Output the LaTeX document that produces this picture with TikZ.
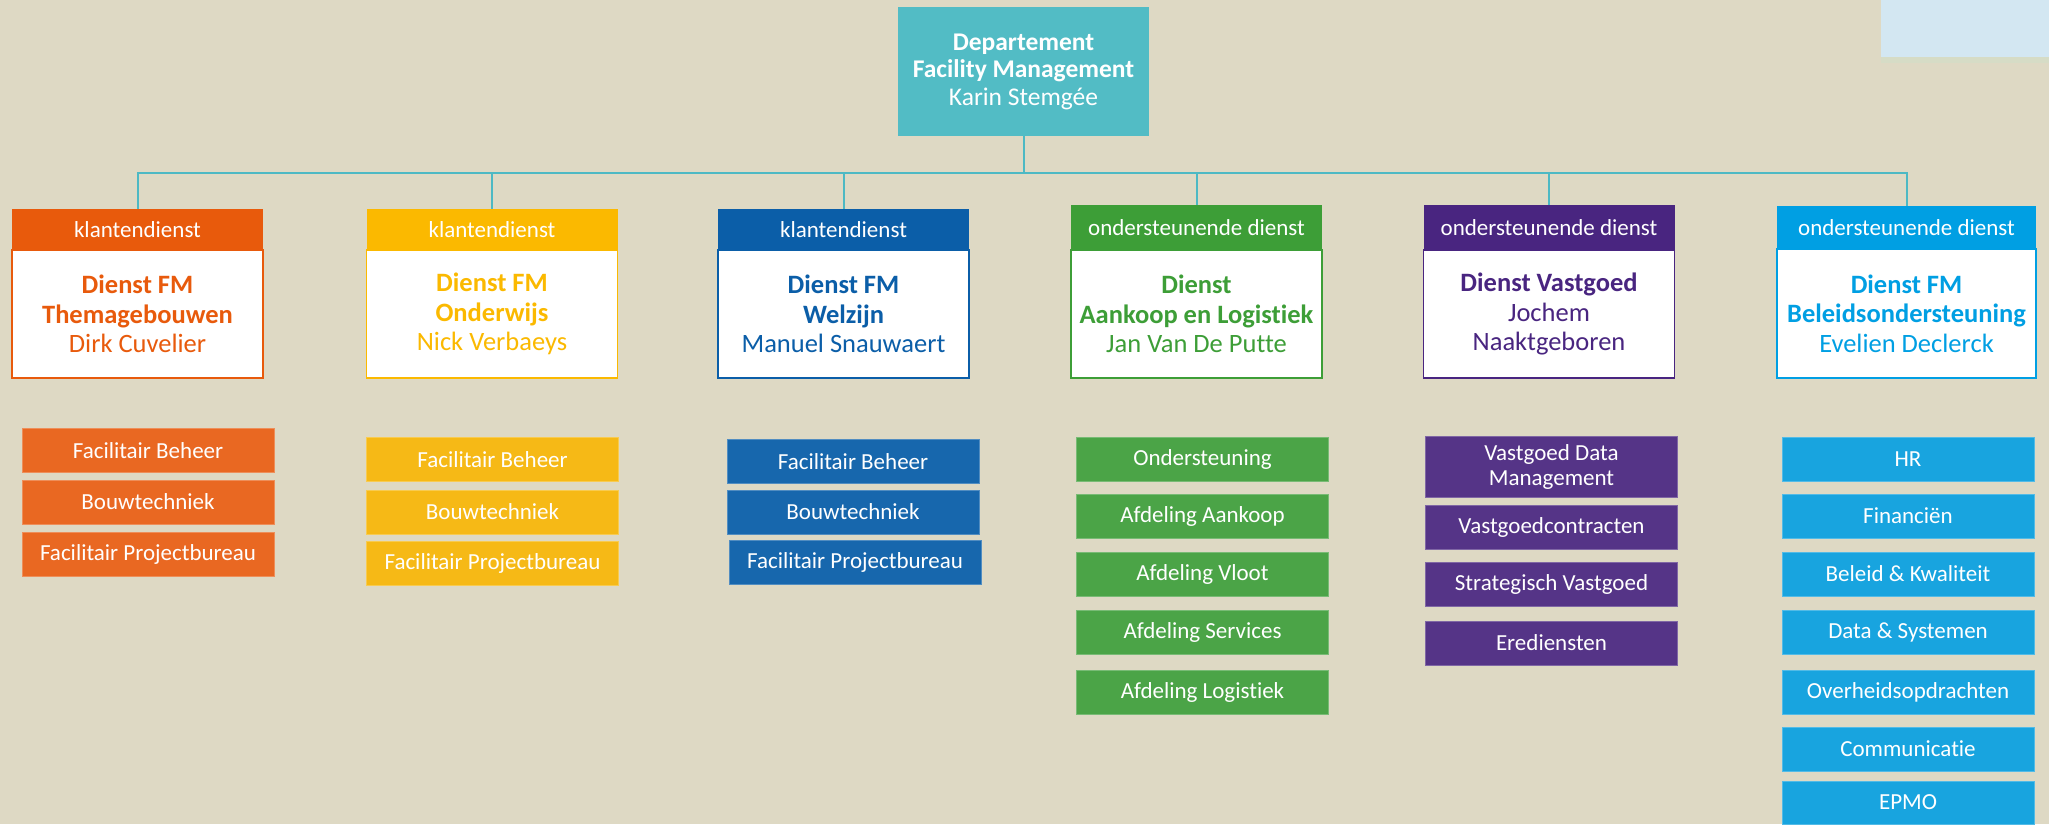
\documentclass[tikz,border=0pt]{standalone}
\usepackage{fontspec}
\setmainfont{Carlito}[Ligatures=NoCommon]
\definecolor{bg}{HTML}{DED9C4}
\definecolor{topc}{HTML}{52BCC5}
\definecolor{linec}{HTML}{4DB9C4}
\definecolor{orH}{HTML}{E85A0C}
\definecolor{orS}{HTML}{E96822}
\definecolor{yeH}{HTML}{FBB900}
\definecolor{yeS}{HTML}{F6B916}
\definecolor{blH}{HTML}{0B5EA8}
\definecolor{blS}{HTML}{1767AD}
\definecolor{grH}{HTML}{3D9E37}
\definecolor{grS}{HTML}{4BA447}
\definecolor{puH}{HTML}{492580}
\definecolor{puS}{HTML}{553487}
\definecolor{lbH}{HTML}{009FE3}
\definecolor{lbS}{HTML}{18A4DF}
\definecolor{imgc}{HTML}{D3E7F2}
\definecolor{imgb}{HTML}{D6DCC6}
\begin{document}
\begin{tikzpicture}[x=0.5pt,y=-0.5pt,
  box/.style={rectangle, inner sep=0pt, outer sep=0pt, align=center},
  hdr/.style={box, fill=#1, minimum width=125.5pt, minimum height=20.5pt, text=white,
    font=\fontsize{11.5}{13}\selectfont},
  body/.style={box, fill=white, draw=#1, line width=0.6pt, minimum width=125.5pt,
    minimum height=64pt, text=#1, font=\fontsize{13.25}{14.75}\selectfont},
  sub/.style={box, fill=#1, draw=#1!75!white, line width=0.4pt, minimum width=126pt,
    minimum height=22pt, text=white, font=\fontsize{11.5}{12.5}\selectfont},
  conn/.style={draw=linec, line width=1pt}]
\useasboundingbox (0,0) rectangle (2049,824);
\fill[bg] (0,0) rectangle (2049,824);
% image fragment top right
\fill[imgc] (1881,0) rectangle (2049,63);
\fill[imgb] (1881,57) rectangle (2049,63);

% top node
\node[box, fill=topc, minimum width=125.5pt, minimum height=64.5pt, text=white,
  font=\fontsize{12.75}{13.75}\selectfont] (top) at (1023.5,71.5)
  {\textbf{Departement}\\\textbf{Facility Management}\\Karin Stemgée};
\coordinate (bus) at (1023.5,172.5);

% column 1
\node[hdr=orH] (h1) at (137.5,229.5) {klantendienst};
\node[body=orH] (b1) at (137.5,314) {\textbf{Dienst FM}\\\textbf{Themagebouwen}\\Dirk Cuvelier};
\node[sub=orS] (s11) at (148,450.5) {Facilitair Beheer};
\node[sub=orS] (s12) at (148,502) {Bouwtechniek};
\node[sub=orS] (s13) at (148,554) {Facilitair Projectbureau};

% column 2
\node[hdr=yeH] (h2) at (492,229.5) {klantendienst};
\node[body=yeH] (b2) at (492,314) {\textbf{Dienst FM}\\\textbf{Onderwijs}\\Nick Verbaeys};
\node[sub=yeS] (s21) at (492.5,459.5) {Facilitair Beheer};
\node[sub=yeS] (s22) at (492.5,512) {Bouwtechniek};
\node[sub=yeS] (s23) at (492.5,563.5) {Facilitair Projectbureau};

% column 3
\node[hdr=blH] (h3) at (843.5,229.5) {klantendienst};
\node[body=blH] (b3) at (843.5,314) {\textbf{Dienst FM}\\\textbf{Welzijn}\\Manuel Snauwaert};
\node[sub=blS] (s31) at (853,461.5) {Facilitair Beheer};
\node[sub=blS] (s32) at (853,512) {Bouwtechniek};
\node[sub=blS] (s33) at (855,562.5) {Facilitair Projectbureau};

% column 4
\node[hdr=grH, minimum height=22.5pt] (h4) at (1196.5,227.5) {ondersteunende dienst};
\node[body=grH] (b4) at (1196.5,314) {\textbf{Dienst}\\\textbf{Aankoop en Logistiek}\\Jan Van De Putte};
\node[sub=grS] (s41) at (1202.5,459) {Ondersteuning};
\node[sub=grS] (s42) at (1202.5,516) {Afdeling Aankoop};
\node[sub=grS] (s43) at (1202.5,574) {Afdeling Vloot};
\node[sub=grS] (s44) at (1202.5,632) {Afdeling Services};
\node[sub=grS] (s45) at (1202.5,692) {Afdeling Logistiek};

% column 5
\node[hdr=puH, minimum height=22.5pt] (h5) at (1549,227.5) {ondersteunende dienst};
\node[body=puH] (b5) at (1549,314) {\textbf{Dienst Vastgoed}\\Jochem\\Naaktgeboren};
\node[sub=puS, minimum height=30.5pt] (s51) at (1551.5,466.5) {Vastgoed Data\\Management};
\node[sub=puS] (s52) at (1551.5,527.5) {Vastgoedcontracten};
\node[sub=puS] (s53) at (1551.5,584) {Strategisch Vastgoed};
\node[sub=puS] (s54) at (1551.5,643) {Erediensten};

% column 6
\node[hdr=lbH, minimum width=129.5pt, minimum height=21.5pt] (h6) at (1906.5,227.5) {ondersteunende dienst};
\node[body=lbH, minimum width=129.5pt, minimum height=64.5pt] (b6) at (1906.5,313.5) {\textbf{Dienst FM}\\\textbf{Beleidsondersteuning}\\Evelien Declerck};
\node[sub=lbS] (s61) at (1908,459) {HR};
\node[sub=lbS] (s62) at (1908,516) {Financiën};
\node[sub=lbS] (s63) at (1908,574) {Beleid \& Kwaliteit};
\node[sub=lbS] (s64) at (1908,632) {Data \& Systemen};
\node[sub=lbS] (s65) at (1908,692) {Overheidsopdrachten};
\node[sub=lbS] (s66) at (1908,749) {Communicatie};
\node[sub=lbS, minimum height=21.5pt] (s67) at (1908,802.5) {EPMO};

% connectors
\foreach \h in {h1,h2,h3,h4,h5,h6}
  \draw[conn] (top.south) -- (bus) -| (\h.north);
\end{tikzpicture}
\end{document}
